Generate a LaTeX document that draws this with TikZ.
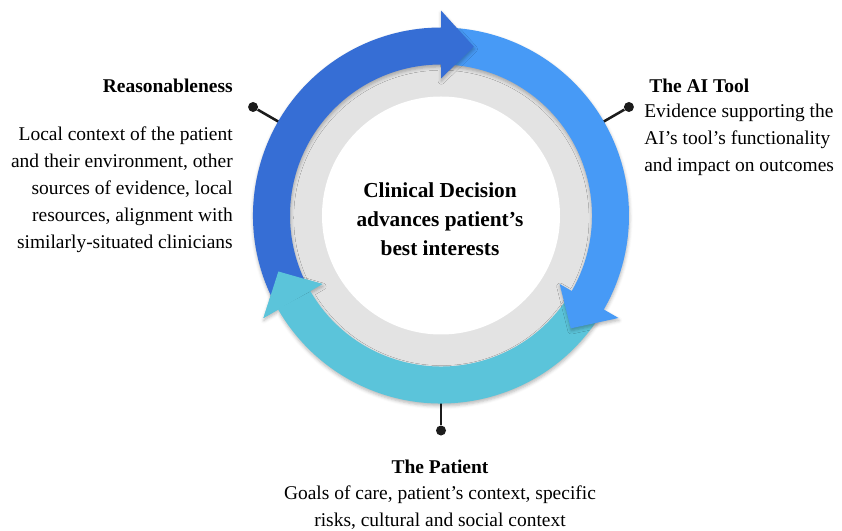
\documentclass[tikz,border=0pt]{standalone}
\usepackage{fontspec}
\setmainfont{Liberation Serif}
\usetikzlibrary{shadows.blur}
\definecolor{ringgray}{HTML}{E3E3E3}
\definecolor{arrowdark}{HTML}{366ED5}
\definecolor{arrowlight}{HTML}{479AF6}
\definecolor{arrowcyan}{HTML}{5BC4DA}
\definecolor{pinink}{HTML}{1C1C1C}
\begin{document}
\begin{tikzpicture}[x=0.75pt,y=0.75pt,
  bodytext/.style={font=\fontsize{14.6}{20.25}\selectfont, inner sep=0pt},
  headtext/.style={font=\fontsize{14.6}{20.25}\selectfont\bfseries, inner sep=0pt},
  centertext/.style={font=\fontsize{16}{21.75}\selectfont\bfseries, inner sep=0pt, align=center},
  pindot/.style={circle, fill=pinink, minimum size=7.5pt, inner sep=0pt},
  pinline/.style={draw=pinink, line width=1.9pt},
  soft/.style={blur shadow={shadow xshift=0.3pt, shadow yshift=-1.8pt,
      shadow blur radius=2.5pt, shadow opacity=28}}
]
% canvas, origin at the centre of the ring
\useasboundingbox (-441,-315.5) rectangle (401,215.5);

% pins (drawn first so the arrows cover their inner ends)
\coordinate (pinL) at (150:180);
\coordinate (pinR) at (30:180);
\coordinate (pinB) at (270:180);
\node[pindot] (dotL) at (150:217) {};
\node[pindot] (dotR) at (30:217) {};
\node[pindot] (dotB) at (270:215) {};
\draw[pinline] (dotL) -- (pinL);
\draw[pinline] (dotR) -- (pinR);
\draw[pinline] (dotB) -- (pinB);

% grey ring and white core
\fill[ringgray] (0,0) circle[radius=165];
\fill[white] (0,0) circle[radius=119];

% circular arrows: band 151..188, head 137..205, tip 11 degrees past the base
% #1 start angle, #2 head base angle, #3 colour
\newcommand\ringarrow[3]{%
  \fill[#3, soft] (#1:188) arc[start angle=#1, end angle=#2, radius=188]
    -- (#2:205) -- ({#2-11}:172) -- (#2:137) -- (#2:151)
    arc[start angle=#2, end angle=#1, radius=151] -- cycle;}
\ringarrow{-31}{-150}{arrowcyan}
\ringarrow{89}{-30}{arrowlight}
\ringarrow{208}{90}{arrowdark}
% the patient arrow's head lies over the start of the reasonableness arrow
\fill[arrowcyan] (210:205) -- (199:172) -- (210:137) -- cycle;

% centre statement
\node[centertext] (core) at (-1,-3.5)
  {Clinical Decision\\advances patient's\\best interests};

% Reasonableness
\node[headtext, anchor=east] (reasonHead) at (-208,129.5) {Reasonableness};
\node[bodytext, align=right, anchor=north east] (reasonBody) at (-208,88.5)
  {Local context of the patient\\and their environment, other\\sources of evidence, local\\resources, alignment with\\similarly-situated clinicians};

% The AI Tool
\node[headtext, anchor=west] (toolHead) at (208,130) {The AI Tool};
\node[bodytext, align=left, anchor=north west] (toolBody) at (203,112)
  {Evidence supporting the\\AI's tool's functionality\\and impact on outcomes};

% The Patient
\node[headtext] (patientHead) at (-1,-251) {The Patient};
\node[bodytext, align=center, anchor=north] (patientBody) at (-1,-270.5)
  {Goals of care, patient's context, specific\\risks, cultural and social context};
\end{tikzpicture}
\end{document}
